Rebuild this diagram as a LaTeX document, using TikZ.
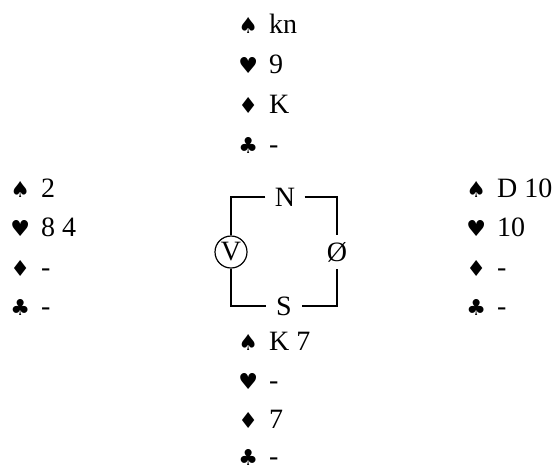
\documentclass[tikz,border=0pt]{standalone}
\usepackage{fontspec}
\setmainfont{Liberation Serif}
\newfontfamily\suitfont{DejaVu Sans}
\usetikzlibrary{positioning}
\newcommand{\cardS}{{\suitfont\fontsize{11}{11}\selectfont ♠}\hspace{5.5pt}}
\newcommand{\cardH}{{\suitfont\fontsize{11}{11}\selectfont ♥}\hspace{5.5pt}}
\newcommand{\cardD}{{\suitfont\fontsize{11}{11}\selectfont ♦}\hspace{5.5pt}}
\newcommand{\cardC}{{\suitfont\fontsize{11}{11}\selectfont ♣}\hspace{5.5pt}}

\begin{document}
\begin{tikzpicture}[
        x=0.5pt, y=-0.5pt,
        hand/.style={anchor=west, inner sep=0pt, text height=9.5pt, text depth=0pt, font=\fontsize{14}{16}\selectfont},
        seat/.style={inner sep=0pt, font=\fontsize{14}{16}\selectfont},
        wire/.style={line width=0.7pt}
    ]
        \useasboundingbox (0,0) rectangle (560,471);

        % North
        \node[hand] (north_s) at (238,24) {\cardS kn};
        \node[hand] (north_h) at (238,64) {\cardH 9};
        \node[hand] (north_d) at (238,104) {\cardD K};
        \node[hand] (north_c) at (238,144) {\cardC -};

        % West
        \node[hand] (west_s) at (10,188) {\cardS 2};
        \node[hand] (west_h) at (10,227) {\cardH 8 4};
        \node[hand] (west_d) at (10,267) {\cardD -};
        \node[hand] (west_c) at (10,306) {\cardC -};

        % East
        \node[hand] (east_s) at (466,188) {\cardS D 10};
        \node[hand] (east_h) at (466,227) {\cardH 10};
        \node[hand] (east_d) at (466,267) {\cardD -};
        \node[hand] (east_c) at (466,306) {\cardC -};

        % South
        \node[hand] (south_s) at (238,341) {\cardS K 7};
        \node[hand] (south_h) at (238,380) {\cardH -};
        \node[hand] (south_d) at (238,419) {\cardD 7};
        \node[hand] (south_c) at (238,456) {\cardC -};

        % Table
        \node[seat, inner xsep=4.5pt] (N) at (285,197) {N};
        \node[seat, inner xsep=5pt] (S) at (284,306) {S};
        \node[seat, circle, draw, line width=0.6pt, minimum size=16pt] (V) at (231,252) {V};
        \node[seat, inner ysep=3.5pt] (O) at (337,252) {Ø};
        \draw[wire] (N) -| (V);
        \draw[wire] (N) -| (O);
        \draw[wire] (S) -| (V);
        \draw[wire] (S) -| (O);

    \end{tikzpicture}
\end{document}
